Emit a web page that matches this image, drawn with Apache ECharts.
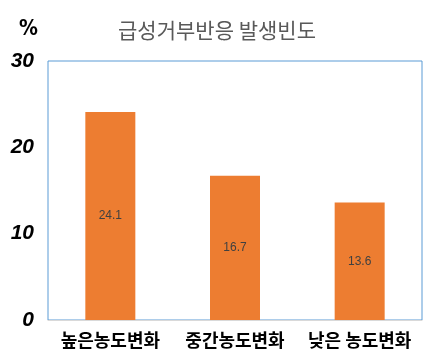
<!DOCTYPE html>
<html>
<head>
<meta charset="utf-8">
<script src="https://cdn.jsdelivr.net/npm/echarts@6/dist/echarts.min.js"></script>
<style>
  html, body { margin: 0; padding: 0; background: #fff; }
  #chart { width: 434px; height: 360px; }
</style>
</head>
<body>
<div id="chart"></div>
<script>
// 데이터
const categories = ['높은농도변화', '중간농도변화', '낮은 농도변화']
const values = [24.1, 16.7, 13.6]
const yTicks = [0, 10, 20, 30]

const chart = echarts.init(document.getElementById('chart'))

const option = {
  animation: false,
  title: {
    text: '급성거부반응 발생빈도',
    left: 'center',
    top: 15,
    textStyle: {
      color: '#595959',
      fontSize: 21,
      fontWeight: 'normal',
      fontFamily: 'Noto Sans CJK KR'
    }
  },
  graphic: [{
    type: 'text',
    left: 19,
    top: 19,
    style: {
      text: '%',
      fill: '#000',
      font: 'bold 21px "DejaVu Sans Condensed", "Liberation Sans", sans-serif'
    }
  }],
  grid: {
    left: 48,
    right: 12,
    top: 61,
    bottom: 40,
    show: true,
    borderColor: '#5B9BD5',
    borderWidth: 1
  },
  xAxis: {
    type: 'category',
    data: categories,
    axisTick: { show: false },
    axisLine: { lineStyle: { color: '#D9D9D9', width: 1 } },
    axisLabel: {
      interval: 0,
      hideOverlap: false,
      color: '#000',
      fontSize: 18,
      fontWeight: 'bold',
      fontFamily: 'Noto Sans CJK KR',
      margin: 11
    }
  },
  yAxis: {
    type: 'value',
    min: 0,
    max: 30,
    interval: 10,
    splitLine: { show: false },
    axisLine: { show: false },
    axisTick: { show: false },
    axisLabel: {
      color: '#000',
      fontSize: 21,
      fontStyle: 'italic',
      fontWeight: 'bold',
      fontFamily: 'Liberation Sans',
      margin: 14,
      formatter: v => yTicks.includes(v) ? String(v) : ''
    }
  },
  series: [{
    type: 'bar',
    data: values,
    barWidth: 50,
    itemStyle: { color: '#ED7D31' },
    label: {
      show: true,
      position: 'inside',
      color: '#404040',
      fontSize: 12,
      fontFamily: 'Liberation Sans'
    }
  }]
}

chart.setOption(option)
</script>
</body>
</html>
